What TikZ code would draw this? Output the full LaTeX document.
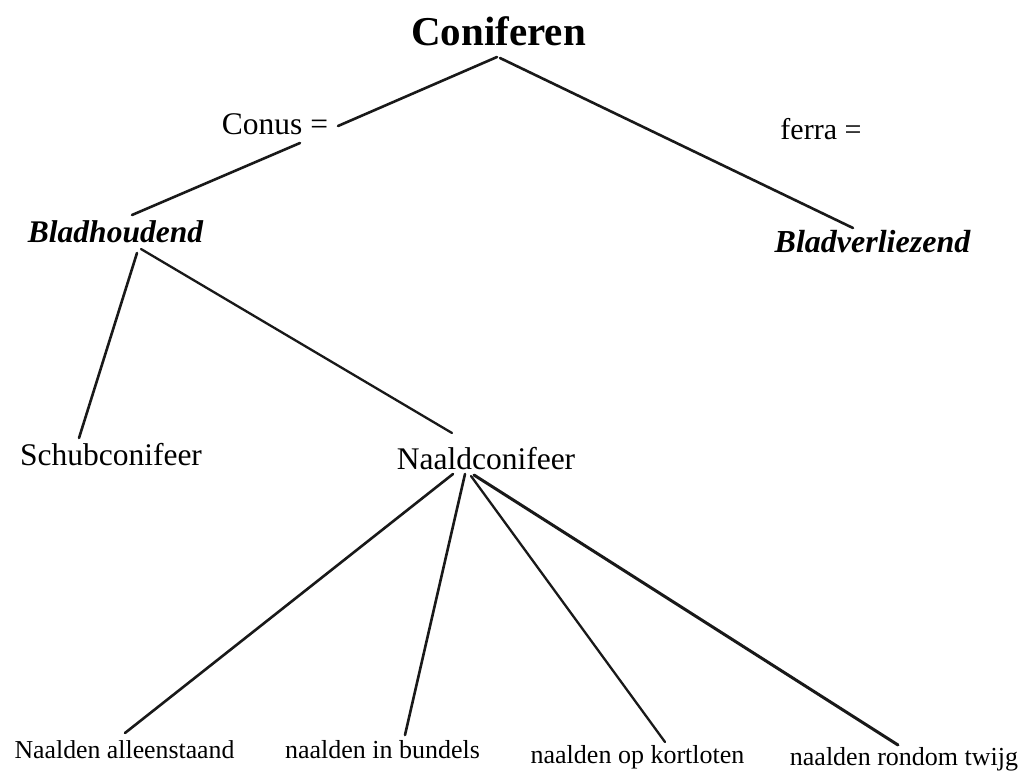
\documentclass[tikz,border=0pt]{standalone}
\usepackage{fontspec}
\setmainfont{Liberation Serif}
\usetikzlibrary{calc}
\begin{document}
\begin{tikzpicture}[x=1pt,y=-1pt,
  lbl/.style={inner sep=0pt,anchor=base,font=\fontsize{31.5}{36}\selectfont},
  small/.style={inner sep=0pt,anchor=base,font=\fontsize{26}{30}\selectfont},
  edge/.style={line width=2.6pt,line cap=round,draw=black!90}]
\fill[white] (0,0) rectangle (1026,777);
\useasboundingbox (0,0) rectangle (1026,777);
\node[inner sep=0pt,anchor=base,font=\fontsize{41}{48}\selectfont\bfseries] (con) at (498.5,45) {Coniferen};
\node[lbl] (conus) at (275,134) {Conus =};
\node[lbl,font=\fontsize{30}{36}\selectfont] (ferra) at (821,139) {ferra =};
\node[lbl,font=\fontsize{31.5}{36}\selectfont\bfseries\itshape] (bh) at (115.5,242) {Bladhoudend};
\node[lbl,font=\fontsize{32}{36}\selectfont\bfseries\itshape] (bv) at (872.5,252) {Bladverliezend};
\node[lbl] (schub) at (111,465) {Schubconifeer};
\node[lbl] (naald) at (486,469) {Naaldconifeer};
\node[small,font=\fontsize{25.8}{30}\selectfont] (n1) at (124.5,758) {Naalden alleenstaand};
\node[small] (n2) at (382.5,758) {naalden in bundels};
\node[small] (n3) at (637.5,763) {naalden op kortloten};
\node[small] (n4) at (904,765) {naalden rondom twijg};
\draw[edge] ($(con.base)+(-1.5,12)$) -- ($(conus.base)+(63,-8)$);
\draw[edge] ($(con.base)+(1.5,13)$) -- ($(bv.base)+(-19.5,-24)$);
\draw[edge] ($(conus.base)+(25,9)$) -- ($(bh.base)+(16.5,-27)$);
\draw[edge] ($(bh.base)+(21.5,11)$) -- ($(schub.base)+(-32,-27)$);
\draw[edge,line width=2.3pt] ($(bh.base)+(25.5,7)$) -- ($(naald.base)+(-34,-36)$);
\draw[edge] ($(naald.base)+(-33,5)$) -- ($(n1.base)+(0.5,-25)$);
\draw[edge] ($(naald.base)+(-21,5)$) -- ($(n2.base)+(22.5,-23)$);
\draw[edge,line width=2.3pt] ($(naald.base)+(-15,7)$) -- ($(n3.base)+(27.5,-21)$);
\draw[edge,line width=3pt] ($(naald.base)+(-12,6)$) -- ($(n4.base)+(-6,-20)$);
\end{tikzpicture}
\end{document}
